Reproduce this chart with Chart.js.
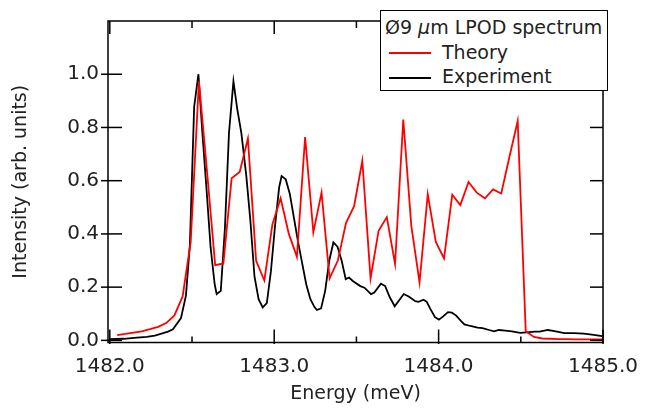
<!DOCTYPE html>
<html>
<head>
<meta charset="utf-8">
<script src="https://cdn.jsdelivr.net/npm/chart.js@4/dist/chart.umd.min.js"></script>
<style>
  body { margin: 0; background: #fff; }
  #wrap { position: relative; width: 650px; height: 409px; }
  #legend {
    position: absolute; left: 380px; top: 10px; width: 222px; height: 75px;
    border: 1.3px solid #000; background: #fff;
    font-family: "DejaVu Sans", sans-serif; font-size: 19px; color: #222;
    padding: 4px 0 0 4px; line-height: 24.7px;
  }
  #legend .row { white-space: nowrap; }
  #legend .swatch { display: inline-block; width: 42px; height: 2px; vertical-align: middle; margin: 0 11px 0 4px; }
</style>
</head>
<body>
<div id="wrap">
  <canvas id="spectrumChart" width="650" height="409"></canvas>
  <div id="legend"></div>
</div>
<script>
// theory curve (meV, arb. units)
const theoryEnergy = [1482.045, 1482.095, 1482.144, 1482.194, 1482.244, 1482.294, 1482.343, 1482.393, 1482.443, 1482.492,
  1482.542, 1482.592, 1482.641, 1482.691, 1482.741, 1482.790, 1482.840, 1482.890, 1482.940, 1482.989,
  1483.039, 1483.089, 1483.138, 1483.188, 1483.238, 1483.288, 1483.337, 1483.387, 1483.437, 1483.486,
  1483.536, 1483.586, 1483.635, 1483.685, 1483.735, 1483.785, 1483.834, 1483.884, 1483.934, 1483.983,
  1484.033, 1484.083, 1484.132, 1484.182, 1484.232, 1484.282, 1484.331, 1484.381, 1484.431, 1484.481,
  1484.530, 1484.580, 1484.630, 1484.680, 1484.729, 1484.779, 1484.829, 1484.878, 1484.928, 1484.978, 1485.028];
const theoryIntensity = [0.020, 0.024, 0.029, 0.034, 0.042, 0.051, 0.065, 0.094, 0.165, 0.370,
  0.973, 0.630, 0.283, 0.289, 0.609, 0.633, 0.758, 0.299, 0.225, 0.436,
  0.534, 0.400, 0.314, 0.764, 0.406, 0.555, 0.233, 0.300, 0.442, 0.504,
  0.675, 0.233, 0.412, 0.463, 0.287, 0.830, 0.430, 0.218, 0.549, 0.370,
  0.308, 0.547, 0.508, 0.595, 0.555, 0.534, 0.567, 0.552, 0.690, 0.824,
  0.034, 0.013, 0.007, 0.006, 0.005, 0.005, 0.004, 0.004, 0.004, 0.004, 0.004];

// measured spectrum
const expEnergy = [1481.995, 1482.085, 1482.165, 1482.224, 1482.274, 1482.324, 1482.354, 1482.384, 1482.433, 1482.463,
  1482.487, 1482.513, 1482.539, 1482.563, 1482.588, 1482.613, 1482.638, 1482.650, 1482.675, 1482.700,
  1482.725, 1482.752, 1482.775, 1482.800, 1482.830, 1482.855, 1482.880, 1482.905, 1482.930, 1482.955,
  1482.980, 1483.005, 1483.030, 1483.045, 1483.070, 1483.095, 1483.120, 1483.145, 1483.170, 1483.195,
  1483.220, 1483.245, 1483.260, 1483.285, 1483.310, 1483.335, 1483.360, 1483.385, 1483.410, 1483.435,
  1483.455, 1483.480, 1483.524, 1483.549, 1483.589, 1483.609, 1483.649, 1483.675, 1483.703, 1483.733,
  1483.759, 1483.788, 1483.818, 1483.858, 1483.878, 1483.908, 1483.928, 1483.948, 1483.978, 1484.002,
  1484.028, 1484.057, 1484.081, 1484.107, 1484.137, 1484.157, 1484.193, 1484.237, 1484.267, 1484.307,
  1484.337, 1484.367, 1484.406, 1484.446, 1484.496, 1484.536, 1484.585, 1484.615, 1484.665, 1484.705,
  1484.765, 1484.824, 1484.884, 1484.944, 1484.994];
const expIntensity = [0.005, 0.006, 0.010, 0.013, 0.018, 0.027, 0.033, 0.042, 0.084, 0.168,
  0.358, 0.877, 1.000, 0.780, 0.570, 0.350, 0.210, 0.174, 0.186, 0.420,
  0.780, 0.973, 0.870, 0.780, 0.620, 0.450, 0.240, 0.155, 0.124, 0.140,
  0.260, 0.430, 0.575, 0.617, 0.605, 0.550, 0.460, 0.370, 0.290, 0.210,
  0.155, 0.125, 0.114, 0.120, 0.186, 0.300, 0.368, 0.352, 0.300, 0.230,
  0.236, 0.222, 0.204, 0.198, 0.174, 0.180, 0.213, 0.204, 0.162, 0.128,
  0.150, 0.174, 0.165, 0.147, 0.145, 0.153, 0.145, 0.120, 0.087, 0.078,
  0.090, 0.106, 0.104, 0.093, 0.072, 0.060, 0.054, 0.048, 0.046, 0.039,
  0.034, 0.039, 0.037, 0.034, 0.028, 0.030, 0.033, 0.033, 0.039, 0.035,
  0.027, 0.027, 0.025, 0.021, 0.016];

const xMajorTicks = [1482, 1483, 1484, 1485];
const xMinorTicks = [1482.5, 1483.5, 1484.5];
const yTicks = [0, 0.2, 0.4, 0.6, 0.8, 1.0];

const FONT = "'DejaVu Sans', sans-serif";

const toPoints = (xs, ys) => xs.map((x, i) => ({ x: x, y: ys[i] }));

//draws the box round the plot with inward ticks on all four sides
const frameTicks = {
  id: "frameTicks",
  afterDatasetsDraw(chart) {
    const { ctx, chartArea: a, scales: { x, y } } = chart;
    ctx.save();
    ctx.strokeStyle = "#000";
    ctx.lineWidth = 1.5;
    ctx.strokeRect(a.left, a.top, a.right - a.left, a.bottom - a.top);

    const seg = (x1, y1, x2, y2) => {
      ctx.beginPath();
      ctx.moveTo(x1, y1);
      ctx.lineTo(x2, y2);
      ctx.stroke();
    };

    xMajorTicks.forEach(v => {
      const px = x.getPixelForValue(v);
      seg(px, a.bottom + 1.5, px, a.bottom - 13);
      seg(px, a.top, px, a.top + 13);
    });
    xMinorTicks.forEach(v => {
      const px = x.getPixelForValue(v);
      seg(px, a.bottom, px, a.bottom - 6);
      seg(px, a.top, px, a.top + 7);
    });
    yTicks.forEach(v => {
      const py = y.getPixelForValue(v);
      seg(a.left - 7, py, a.left + 14, py);
      seg(a.right - 13, py, a.right, py);
    });
    ctx.restore();
  }
};

//legend built from the datasets
const htmlLegend = {
  id: "htmlLegend",
  afterUpdate(chart) {
    const box = document.getElementById("legend");
    let html = '<div class="row">Ø9 <i>μ</i>m LPOD spectrum</div>';
    chart.data.datasets.forEach(ds => {
      html += `<div class="row"><span class="swatch" style="background:${ds.borderColor}"></span>${ds.label}</div>`;
    });
    box.innerHTML = html;
  }
};

const ctx = document.getElementById("spectrumChart").getContext("2d");

new Chart(ctx, {
  type: "line",
  data: {
    datasets: [
      {
        label: "Theory",
        data: toPoints(theoryEnergy, theoryIntensity),
        borderColor: "#ff0000",
        borderWidth: 1.8,
        pointRadius: 0,
        tension: 0
      },
      {
        label: "Experiment",
        data: toPoints(expEnergy, expIntensity),
        borderColor: "#000000",
        borderWidth: 1.8,
        pointRadius: 0,
        tension: 0
      }
    ]
  },
  options: {
    responsive: false,
    animation: false,
    devicePixelRatio: 1,
    layout: { padding: { top: 5, right: 37.5, bottom: 0, left: 0 } },
    plugins: {
      legend: { display: false },
      tooltip: { enabled: false }
    },
    scales: {
      x: {
        type: "linear",
        min: 1481.989,
        max: 1485.0,
        afterBuildTicks: s => { s.ticks = xMajorTicks.map(v => ({ value: v })); },
        afterFit: s => { s.height = 66.5; },
        grid: { display: false, drawTicks: false },
        border: { display: false },
        ticks: {
          padding: 12,
          color: "#222",
          font: { family: FONT, size: 20 },
          maxRotation: 0,
          callback: v => v.toFixed(1)
        },
        title: {
          display: true,
          text: "Energy (meV)",
          color: "#222",
          font: { family: FONT, size: 19 },
          padding: { top: 0, bottom: 4 }
        }
      },
      y: {
        min: -0.008,
        max: 1.2,
        afterBuildTicks: s => { s.ticks = yTicks.map(v => ({ value: v })); },
        afterFit: s => { s.width = 108; },
        grid: { display: false, drawTicks: false },
        border: { display: false },
        ticks: {
          padding: 9,
          color: "#222",
          font: { family: FONT, size: 20 },
          callback: v => v.toFixed(1)
        },
        title: {
          display: true,
          text: "Intensity (arb. units)",
          color: "#222",
          font: { family: FONT, size: 19 },
          padding: { top: 10, bottom: 0 }
        }
      }
    }
  },
  plugins: [frameTicks, htmlLegend]
});
</script>
</body>
</html>
